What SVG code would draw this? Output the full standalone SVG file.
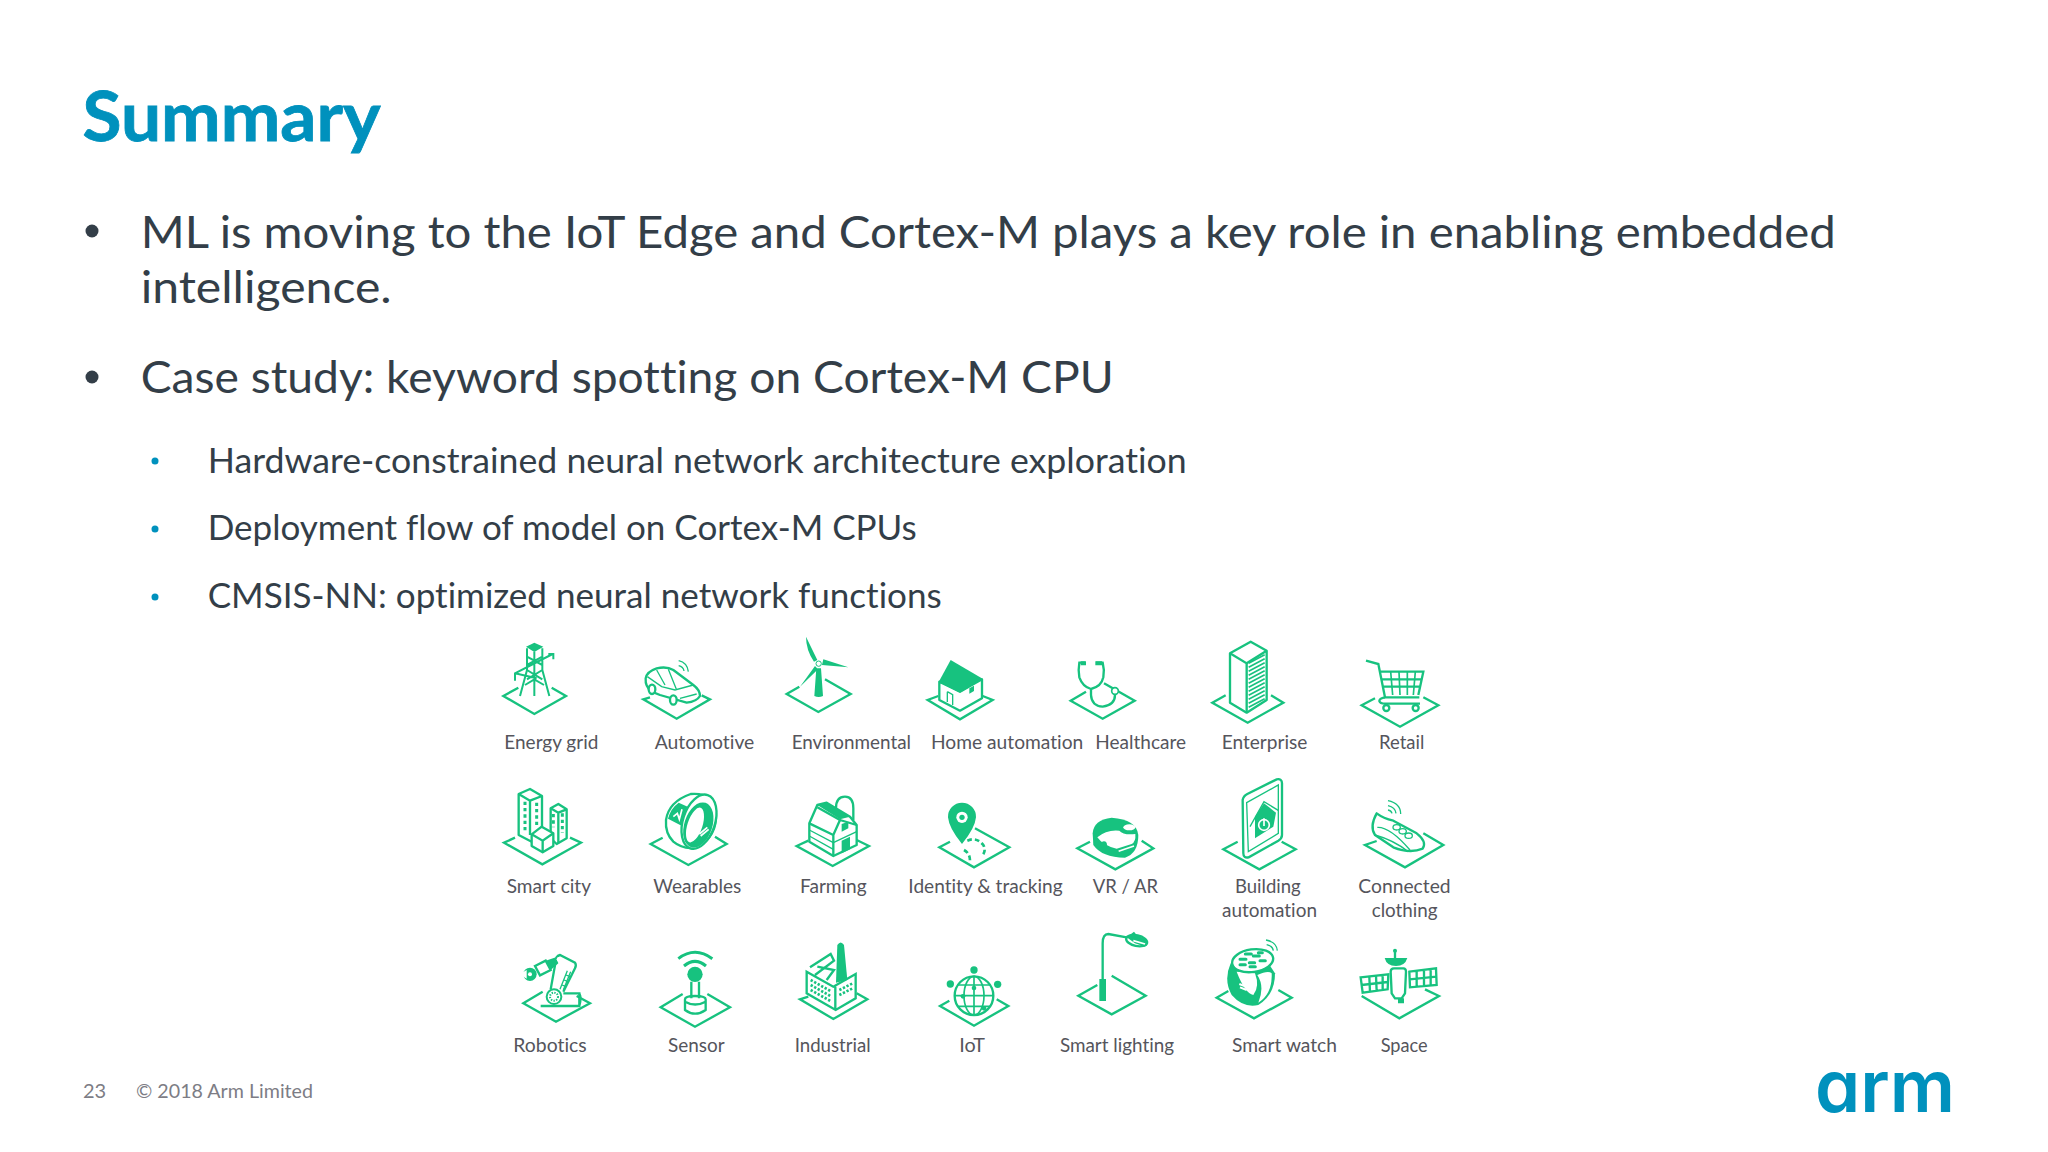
<svg xmlns="http://www.w3.org/2000/svg" width="2048" height="1152" viewBox="0 0 2048 1152">
<style>
text{font-family:"Lato","Liberation Sans",sans-serif;font-variant-ligatures:none}
.title{font-size:68px;font-weight:700;fill:#0091bd;stroke:#0091bd;stroke-width:.8}
.b1{font-size:44px;fill:#333e48}
.b2{font-size:35px;fill:#333e48}
.foot{font-size:20px;fill:#7d7d85}
.logo{font-family:"Inter","Lato",sans-serif;font-size:72px;font-weight:600;fill:#0091bd;font-feature-settings:"cv11"}
.l{font-size:60px;fill:#55555c}
.s{fill:none;stroke:#17c27f;stroke-width:7;stroke-linejoin:miter}
.t{fill:none;stroke:#17c27f;stroke-width:4}
.w{fill:#fff;stroke:#17c27f;stroke-width:7;stroke-linejoin:round}
.f{fill:#17c27f;stroke:none}
.wl{fill:none;stroke:#fff;stroke-width:5}
</style>
<rect width="2048" height="1152" fill="#fff"/>
<text class="title" x="82.5" y="141" textLength="298" lengthAdjust="spacingAndGlyphs">Summary</text>
<g id="bullets">
<circle cx="92" cy="231" r="6.5" fill="#333e48"/>
<text class="b1" x="140.7" y="248" textLength="1695" lengthAdjust="spacingAndGlyphs">ML is moving to the IoT Edge and Cortex-M plays a key role in enabling embedded</text>
<text class="b1" x="140.7" y="303" textLength="251" lengthAdjust="spacingAndGlyphs">intelligence.</text>
<circle cx="92" cy="377" r="6.5" fill="#333e48"/>
<text class="b1" x="140.7" y="393" textLength="973" lengthAdjust="spacingAndGlyphs">Case study: keyword spotting on Cortex-M CPU</text>
<circle cx="155" cy="461" r="3.5" fill="#0091bd"/>
<text class="b2" x="207.7" y="472.5" textLength="979" lengthAdjust="spacingAndGlyphs">Hardware-constrained neural network architecture exploration</text>
<circle cx="155" cy="529" r="3.5" fill="#0091bd"/>
<text class="b2" x="207.7" y="539.5" textLength="709" lengthAdjust="spacingAndGlyphs">Deployment flow of model on Cortex-M CPUs</text>
<circle cx="155" cy="597" r="3.5" fill="#0091bd"/>
<text class="b2" x="207.7" y="607.5" textLength="734" lengthAdjust="spacingAndGlyphs">CMSIS-NN: optimized neural network functions</text>
</g>

<g id="energy-grid" transform="translate(480,620) scale(.33333)">
<path class="s" d="M115 203L70 228L163 282L258 228L215 203"/>
<path class="f" d="M138 80L163 68L190 80L163 96Z"/>
<path class="s" style="stroke-width:6" d="M141 85V150L120 228M187 85V150L208 228M163 95V228M141 110L187 135M187 110L141 135M141 150L187 178M187 150L141 178M135 195L163 178L192 195M105 182V160L218 102M205 102H220V118M105 160L170 175"/>
<text class="l" x="73" y="388" textLength="282" lengthAdjust="spacingAndGlyphs">Energy grid</text>
</g>
<g id="automotive" transform="translate(480,620) scale(.33333)">
<path class="s" d="M510 232L490 238L590 296L690 238L665 226"/>
<path class="w" d="M497 175Q500 155 530 145Q560 138 580 150L640 195Q660 210 660 228Q650 245 620 248L540 225L515 215Q495 200 497 175Z"/>
<path class="t" d="M502 170L545 200L585 210L640 195M530 150L555 195M565 148L590 210M600 235L650 222"/>
<ellipse class="w" cx="516" cy="208" rx="10" ry="14"/><ellipse class="w" cx="580" cy="240" rx="10" ry="14"/>
<path class="s" style="stroke-width:4" d="M596 122Q622 128 625 155M596 137Q610 140 612 153"/>
<text class="l" x="524" y="388" textLength="299" lengthAdjust="spacingAndGlyphs">Automotive</text>
</g>
<g id="environmental" transform="translate(480,620) scale(.33333)">
<path class="s" d="M958 200L920 222L1015 276L1112 222L1035 178"/>
<path class="f" d="M1003 228L1009 145H1023L1029 228Q1016 234 1003 228ZM978 50L1012 120L1002 125Q978 90 978 50ZM1105 142L1030 118L1026 135ZM960 200L1005 138L1014 148Z"/>
<circle cx="1016" cy="131" r="8" fill="#fff" stroke="#17c27f" stroke-width="3"/>
<text class="l" x="935" y="388" textLength="358" lengthAdjust="spacingAndGlyphs">Environmental</text>
</g>
<g id="home-automation" transform="translate(480,620) scale(.33333)">
<path class="s" d="M1375 228L1343 240L1440 298L1538 240L1508 228"/>
<path class="w" d="M1378 185V240L1440 272L1506 235V178L1440 215Z"/>
<path class="f" d="M1376 186L1412 120L1508 176L1440 218Z"/>
<path class="t" d="M1402 215L1418 224V255M1402 215V246"/>
<path class="f" d="M1468 205L1482 197V213L1468 221Z"/>
<text class="l" x="1353" y="388" textLength="457" lengthAdjust="spacingAndGlyphs">Home automation</text>
</g>
<g id="healthcare" transform="translate(960,620) scale(.33333)">
<path class="s" d="M378 215L332 242L428 296L524 242L432 190"/>
<path class="s" d="M375 128H358Q354 150 358 172Q368 200 393 207Q424 200 430 172Q434 150 428 128H408M393 207V225Q395 258 428 260Q465 255 465 225"/>
<path class="f" d="M362 124h16v12h-16zM406 124h20v12h-20z"/>
<circle cx="465" cy="213" r="10" fill="#fff" stroke="#17c27f" stroke-width="5"/>
<text class="l" x="406" y="388" textLength="272" lengthAdjust="spacingAndGlyphs">Healthcare</text>
</g>
<g id="enterprise" transform="translate(960,620) scale(.33333)">
<path class="s" d="M797 226L757 248L863 308L970 248L933 226"/>
<path class="w" d="M810 100L872 65L920 92V240L860 278L810 248Z"/>
<path class="s" d="M810 100L860 130V278M860 130L920 92"/>
<path d="M866 130L914 104M866 142L914 116M866 154L914 128M866 166L914 140M866 178L914 152M866 190L914 164M866 202L914 176M866 214L914 188M866 226L914 200M866 238L914 212M866 250L914 224M866 262L914 236" stroke="#17c27f" stroke-width="5" fill="none"/>
<text class="l" x="785" y="388" textLength="257" lengthAdjust="spacingAndGlyphs">Enterprise</text>
</g>
<g id="retail" transform="translate(960,620) scale(.33333)">
<path class="s" d="M1245 235L1205 256L1320 320L1435 256L1390 232"/>
<path class="s" d="M1218 122L1255 132L1275 232H1378M1258 155H1390L1375 225M1264 178H1386M1268 200H1380"/>
<path class="t" d="M1292 155L1298 225M1317 155L1320 225M1342 155L1342 225M1366 155L1360 225" style="stroke-width:5"/>
<path class="s" d="M1275 232Q1258 235 1258 243Q1260 251 1275 251H1380"/>
<circle class="w" cx="1279" cy="264" r="9"/><circle class="w" cx="1367" cy="264" r="9"/>
<text class="l" x="1257" y="388" textLength="136" lengthAdjust="spacingAndGlyphs">Retail</text>
</g>

<g id="smart-city" transform="translate(480,770) scale(.33333)">
<path class="s" d="M105 203L72 218L187 283L303 218L270 203"/>
<path class="w" d="M116 72L150 57L186 78V190L155 215L116 195Z"/>
<path class="s" d="M116 72L150 92L186 78M150 92V195"/>
<path class="w" d="M212 115L235 102L260 118V205L230 222L212 205Z"/>
<path class="s" d="M212 115L235 128L260 118M235 128V220"/>
<path class="w" d="M155 193L185 170L220 190V228L188 247L155 228Z"/>
<path class="s" d="M155 193L188 212L220 190M188 212V247"/>
<path d="M135 95v95M170 98v70M220 132v40M247 130v58" stroke="#17c27f" stroke-width="9" stroke-dasharray="10 9" fill="none"/>
<text class="l" x="80" y="368" textLength="253" lengthAdjust="spacingAndGlyphs">Smart city</text>
</g>
<g id="wearables" transform="translate(480,770) scale(.33333)">
<path class="s" d="M548 203L512 222L625 285L740 222L705 200"/>
<path class="w" d="M558 150Q566 95 632 72Q700 66 708 130Q712 200 650 232Q610 240 580 215Q555 190 558 150Z"/>
<path class="f" d="M564 146Q572 115 596 98L640 118Q615 140 606 168Z"/>
<ellipse class="w" cx="657" cy="155" rx="48" ry="84" transform="rotate(18 657 155)"/>
<ellipse class="f" cx="655" cy="165" rx="42" ry="70" transform="rotate(18 655 165)"/>
<ellipse class="w" cx="645" cy="165" rx="26" ry="58" transform="rotate(18 645 165)"/>
<path class="wl" d="M580 140L592 130L598 148L606 118M658 192L682 172M662 198L686 178"/>
<text class="l" x="520" y="368" textLength="264" lengthAdjust="spacingAndGlyphs">Wearables</text>
</g>
<g id="farming" transform="translate(480,770) scale(.33333)">
<path class="s" d="M985 212L950 228L1058 288L1167 228L1130 210"/>
<path class="s" d="M1068 115Q1068 80 1095 80Q1120 80 1120 115V150"/>
<path class="w" d="M988 160L1012 105L1040 98L1110 140L1130 165V225L1060 258L988 215Z"/>
<path class="f" d="M1012 105L1040 98L1110 140L1080 148Z"/>
<path class="s" d="M1012 112L1080 150L1060 195L988 160M1060 195V258M1080 150L1130 165"/>
<path class="t" d="M988 180L1060 218M988 198L1060 238M1060 218L1130 185"/>
<path class="f" d="M1085 212L1110 200V238L1085 250ZM1085 162L1105 155V175L1085 185Z"/>
<text class="l" x="960" y="368" textLength="200" lengthAdjust="spacingAndGlyphs">Farming</text>
</g>
<g id="identity-tracking" transform="translate(480,770) scale(.33333)">
<path class="s" d="M1410 215L1378 232L1482 292L1588 232L1485 175"/>
<path class="f" d="M1446 98A42 42 0 0 1 1488 142Q1485 175 1446 222Q1407 175 1404 142A42 42 0 0 1 1446 98Z"/>
<circle cx="1446" cy="142" r="17" fill="#fff"/><circle cx="1446" cy="142" r="8" fill="#17c27f"/>
<path class="s" style="stroke-width:8" stroke-dasharray="14 9" d="M1462 212Q1490 200 1510 225Q1520 245 1505 258M1452 240Q1470 250 1470 272"/>
<text class="l" x="1285" y="368" textLength="463" lengthAdjust="spacingAndGlyphs">Identity &amp; tracking</text>
</g>
<g id="vr-ar" transform="translate(960,770) scale(.33333)">
<path class="s" d="M390 215L352 235L466 298L580 235L545 212"/>
<path class="f" d="M398 190Q400 150 455 143Q530 148 535 195Q535 250 495 263Q425 262 400 225Z"/>
<path d="M412 202Q440 178 478 182Q490 196 526 192Q528 215 515 222L470 236Q430 228 412 202Z" fill="#fff"/>
<ellipse cx="508" cy="172" rx="18" ry="9" fill="#fff"/>
<path class="wl" d="M476 244L522 228"/>
<ellipse cx="432" cy="226" rx="9" ry="12" fill="#17c27f"/>
<text class="l" x="398" y="368" textLength="196" lengthAdjust="spacingAndGlyphs">VR / AR</text>
</g>
<g id="building-automation" transform="translate(960,770) scale(.33333)">
<path class="s" d="M833 215L790 238L898 298L1007 238L965 215"/>
<path class="s" style="stroke-width:7" d="M848 90Q850 78 862 72L950 28Q966 25 966 40V195Q966 205 955 212L866 262Q850 265 850 250Z"/>
<path class="t" d="M860 98L955 45V190L865 245Z"/>
<path class="f" d="M885 140L912 100L948 128L940 170L885 205Z"/>
<path class="t" d="M870 170L912 95L956 122"/>
<circle cx="912" cy="165" r="16" fill="none" stroke="#fff" stroke-width="5"/>
<path d="M912 145V168" stroke="#fff" stroke-width="5"/>
<text class="l" x="825" y="368" textLength="197" lengthAdjust="spacingAndGlyphs">Building</text>
<text class="l" x="786" y="442" textLength="285" lengthAdjust="spacingAndGlyphs">automation</text>
</g>
<g id="connected-clothing" transform="translate(960,770) scale(.33333)">
<path class="s" d="M1250 213L1215 225L1335 292L1450 225L1390 190"/>
<path class="w" d="M1250 130Q1228 170 1245 195L1300 232Q1350 252 1388 236Q1402 215 1370 190L1300 152Q1270 145 1250 130Z"/>
<path class="t" d="M1252 172Q1290 170 1350 240M1245 195Q1300 210 1345 245"/>
<ellipse class="t" cx="1310" cy="172" rx="11" ry="8"/><ellipse class="t" cx="1328" cy="184" rx="11" ry="8"/><ellipse class="t" cx="1346" cy="197" rx="11" ry="8"/>
<path class="s" style="stroke-width:4" d="M1284 92Q1322 100 1322 132M1284 107Q1306 112 1308 130M1284 120Q1294 122 1296 130"/>
<text class="l" x="1195" y="368" textLength="277" lengthAdjust="spacingAndGlyphs">Connected</text>
<text class="l" x="1235" y="442" textLength="198" lengthAdjust="spacingAndGlyphs">clothing</text>
</g>

<g id="robotics" transform="translate(480,930) scale(.33333)">
<path class="s" d="M188 185L130 220L228 275L330 220L290 198"/>
<path class="s" d="M182 228H298V190H250M298 190Q305 205 298 228"/>
<path class="s" d="M212 178L226 100Q226 78 240 75L285 98Q290 105 285 115L250 185"/>
<path class="t" d="M262 122L240 178M272 125L250 180M258 135L270 140M252 150L264 155M246 165L258 170"/>
<path class="s" d="M165 108L197 92L212 120L180 136Z"/>
<path class="f" d="M197 92L228 82L235 100L212 120Z"/>
<circle cx="237" cy="88" r="7" fill="#fff"/>
<circle cx="150" cy="133" r="20" class="f"/>
<circle cx="150" cy="133" r="6" fill="#fff"/>
<path d="M118 133L140 120V146Z" fill="#fff"/>
<circle cx="222" cy="200" r="22" class="w" style="stroke-width:6"/>
<circle cx="222" cy="200" r="12" fill="none" stroke="#17c27f" stroke-width="6" stroke-dasharray="4 4"/>
<text class="l" x="100" y="365" textLength="220" lengthAdjust="spacingAndGlyphs">Robotics</text>
</g>
<g id="sensor" transform="translate(480,930) scale(.33333)">
<path class="s" d="M608 192L542 232L645 290L750 232L682 192"/>
<circle class="f" cx="645" cy="133" r="23"/>
<path class="s" d="M634 155V205M657 155V205"/>
<path class="s" d="M615 208Q615 198 645 198Q677 198 677 208V240Q645 262 615 240ZM615 215Q645 232 677 215"/>
<path class="s" style="stroke-width:9" d="M612 108Q645 80 678 108M595 86Q645 48 697 86"/>
<text class="l" x="564" y="365" textLength="170" lengthAdjust="spacingAndGlyphs">Sensor</text>
</g>
<g id="industrial" transform="translate(480,930) scale(.33333)">
<path class="s" d="M985 200L960 208L1060 267L1162 208L1130 190"/>
<path class="s" d="M980 125L1060 170L1127 132V205L1067 240L980 190ZM1066 170V238M990 112L1052 72L1062 92L1005 135M1012 110L1062 120L1040 150"/>
<path class="f" d="M1072 45Q1082 30 1092 45L1102 150L1068 158Z"/>
<path d="M992 150L1055 185M992 165L1055 200M992 180L1055 215M1078 180L1118 160M1078 195L1118 175" fill="none" stroke="#17c27f" stroke-width="8" stroke-dasharray="7 5"/>
<text class="l" x="944" y="365" textLength="228" lengthAdjust="spacingAndGlyphs">Industrial</text>
</g>
<g id="iot" transform="translate(480,930) scale(.33333)">
<path class="s" d="M1408 212L1380 228L1482 287L1585 228L1550 208"/>
<circle class="w" cx="1482" cy="197" r="58"/>
<ellipse class="t" cx="1482" cy="197" rx="30" ry="58" style="stroke-width:5"/>
<path class="t" style="stroke-width:5" d="M1482 139V255M1424 197H1540M1434 165H1530M1434 229H1530"/>
<circle class="f" cx="1482" cy="120" r="11"/><circle class="f" cx="1411" cy="162" r="11"/><circle class="f" cx="1553" cy="163" r="11"/>
<circle class="f" cx="1482" cy="174" r="7"/><circle class="f" cx="1449" cy="199" r="7"/><circle class="f" cx="1512" cy="235" r="7"/>
<text class="l" x="1438" y="365" textLength="77" lengthAdjust="spacingAndGlyphs">IoT</text>
</g>
<g id="smart-lighting" transform="translate(960,930) scale(.33333)">
<path class="s" d="M412 165L355 197L455 253L557 197L455 137"/>
<path class="f" d="M418 147H438V213H418Z"/>
<path class="s" d="M428 148V40Q428 12 445 12L500 22"/>
<ellipse class="w" cx="530" cy="32" rx="32" ry="16" transform="rotate(12 530 32)"/>
<path class="f" d="M500 22L522 5L530 15L560 30L555 50L525 40Z"/>
<path d="M520 32L555 42" stroke="#fff" stroke-width="5"/>
<text class="l" x="300" y="365" textLength="342" lengthAdjust="spacingAndGlyphs">Smart lighting</text>
</g>
<g id="smart-watch" transform="translate(960,930) scale(.33333)">
<path class="s" d="M805 183L770 203L882 265L995 203L955 180"/>
<path class="f" d="M812 100Q790 150 815 195Q850 235 895 225Q945 195 945 130L925 100Z"/>
<path d="M830 125Q855 190 880 195Q900 170 885 130Z" fill="#fff"/>
<path d="M892 135Q925 120 935 130Q938 190 895 218Q915 170 892 135Z" fill="#fff"/>
<ellipse class="w" cx="878" cy="92" rx="62" ry="34" transform="rotate(-8 878 92)"/>
<path d="M840 88h18M856 72h18M880 78h18M900 92h16M868 98h16M840 104h16M870 110h16M895 68h12" stroke="#17c27f" stroke-width="9" stroke-linecap="round" fill="none"/>
<path class="wl" d="M838 162L858 170M840 172L860 180" style="stroke-width:6"/>
<path class="s" style="stroke-width:4" d="M918 30Q950 36 952 62M920 44Q938 48 940 62"/>
<text class="l" x="816" y="365" textLength="315" lengthAdjust="spacingAndGlyphs">Smart watch</text>
</g>
<g id="space" transform="translate(960,930) scale(.33333)">
<path class="s" d="M1205 198L1318 265L1437 198L1395 178"/>
<path class="s" d="M1292 125Q1292 115 1302 115H1330Q1338 115 1338 125L1335 190L1325 205H1305L1295 190Z"/>
<path class="f" d="M1274 84H1342Q1335 108 1308 108Q1280 108 1274 84ZM1314 205H1332V220H1314Z"/>
<circle class="f" cx="1305" cy="62" r="6"/><path class="s" d="M1305 62V84"/>
<path class="s" d="M1202 142L1285 133L1283 178L1208 188ZM1205 165L1283 156M1228 140L1230 186M1248 137L1250 183M1268 135L1268 180"/>
<path class="s" d="M1348 125L1428 115L1430 165L1350 172ZM1349 148L1429 140M1370 122V170M1392 120V168M1412 117V165"/>
<text class="l" x="1262" y="365" textLength="141" lengthAdjust="spacingAndGlyphs">Space</text>
</g>

<g id="footer">
<text class="foot" x="83" y="1098">23</text>
<text class="foot" x="136" y="1098" textLength="177" lengthAdjust="spacingAndGlyphs">© 2018 Arm Limited</text>
<text class="logo" x="1815" y="1112" textLength="140" lengthAdjust="spacingAndGlyphs">arm</text>
</g>
<g id="connectors"></g>
</svg>
